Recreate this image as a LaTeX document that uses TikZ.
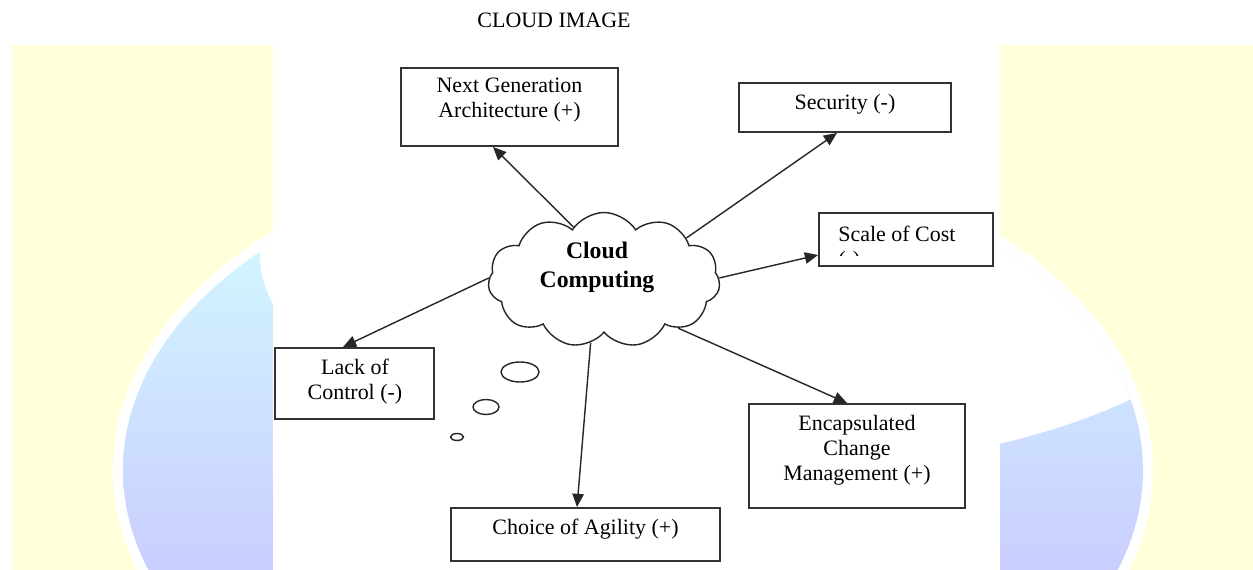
\documentclass[tikz,border=0pt]{standalone}
\usepackage{fontspec}
\setmainfont{Liberation Serif}
\usetikzlibrary{shapes.symbols,arrows.meta,calc}

\definecolor{panelyellow}{HTML}{FFFFDA}
\definecolor{globetop}{HTML}{D2F6FF}
\definecolor{globebottom}{HTML}{C9CEFF}
\newcommand{\pxu}{0.02cm}

\begin{document}
\begin{tikzpicture}[x=0.02cm, y=-0.02cm,
        every node/.style={font=\fontsize{12.5}{14.2}\selectfont, text=black},
        itembox/.style n args={2}{draw=black!80, line width=1.1pt, fill=white, inner sep=0pt,
            minimum width=#1*\pxu, minimum height=#2*\pxu},
        boxtext/.style={align=center, inner sep=0pt},
        link/.style={draw=black!85, line width=0.8pt, -{Triangle[length=7.5pt,width=6.5pt]}}]
        \useasboundingbox (0,0) rectangle (1253,570);

        % Background: yellow panels with the globe
        \begin{scope}
            \clip (12,45) rectangle (1253,570);
            \fill[panelyellow] (12,45) rectangle (1253,570);
            \fill[white] (633,470) ellipse [x radius=520, y radius=331];
            \begin{scope}
                \clip (633,470) ellipse [x radius=510, y radius=320];
                \shade[top color=globetop, bottom color=globebottom] (12,240) rectangle (1253,570);
                \fill[white] (760,255) ellipse [x radius=500, y radius=215];
            \end{scope}
        \end{scope}
        \fill[white] (273,45) rectangle (1000,570);

        % Title
        \node (title) at (554,20) {CLOUD IMAGE};

        % Cloud in the middle
        \node[cloud, cloud puffs=11, cloud puff arc=115, draw=black!85, line width=0.8pt, fill=white,
              minimum width=232*\pxu, minimum height=135*\pxu, inner sep=0pt] (cc) at (604,280) {};
        \node[boxtext, font=\fontsize{13.5}{16.4}\selectfont\bfseries] (cctext) at (597,267) {Cloud\\Computing};

        % Thought bubbles
        \draw[black!85, line width=0.8pt] (520,372) ellipse [x radius=19, y radius=10];
        \draw[black!85, line width=0.8pt] (486,407) ellipse [x radius=13, y radius=7.5];
        \draw[black!85, line width=0.8pt] (457,437) ellipse [x radius=6.5, y radius=3.5];

        % Boxes
        \node[itembox={217}{78}] (ng) at (509.5,107) {};
        \node[boxtext] (ngtext) at (509.5,100) {Next Generation\\Architecture (+)};

        \node[itembox={212}{49}] (sec) at (845,107.5) {};
        \node[boxtext] (sectext) at (845,104) {Security (-)};

        \node[itembox={174}{53}] (sc) at (906,239.5) {};
        \begin{scope}
            \clip (819,213) rectangle (993,256);
            \node[anchor=north west, align=left, inner sep=0pt] (sctext) at (838,226) {Scale of Cost\\(-)};
        \end{scope}

        \node[itembox={159}{71}] (lc) at (354.5,383.5) {};
        \node[boxtext] (lctext) at (355,382) {Lack of\\Control (-)};

        \node[itembox={216}{104}] (ea) at (857,456) {};
        \node[boxtext] (eatext) at (857,450) {Encapsulated\\Change\\Management (+)};

        \node[itembox={269}{53}] (ca) at (585.5,534.5) {};
        \node[boxtext] (catext) at (585.5,529) {Choice of Agility (+)};

        % Arrows from the cloud
        \draw[link] (cc.120) -- ($(ng.south)+(-16.5,0)$);
        \draw[link] (cc.27) -- ($(sec.south)+(-8,0)$);
        \draw[link] (cc.1) -- ($(sc.west)+(0,15.5)$);
        \draw[link] (cc.179) -- ($(lc.north)+(-11.5,0)$);
        \draw[link] (cc.-102) -- ($(ca.north)+(-8.5,0)$);
        \draw[link] (cc.-33) -- ($(ea.north)+(-10,0)$);
\end{tikzpicture}
\end{document}
